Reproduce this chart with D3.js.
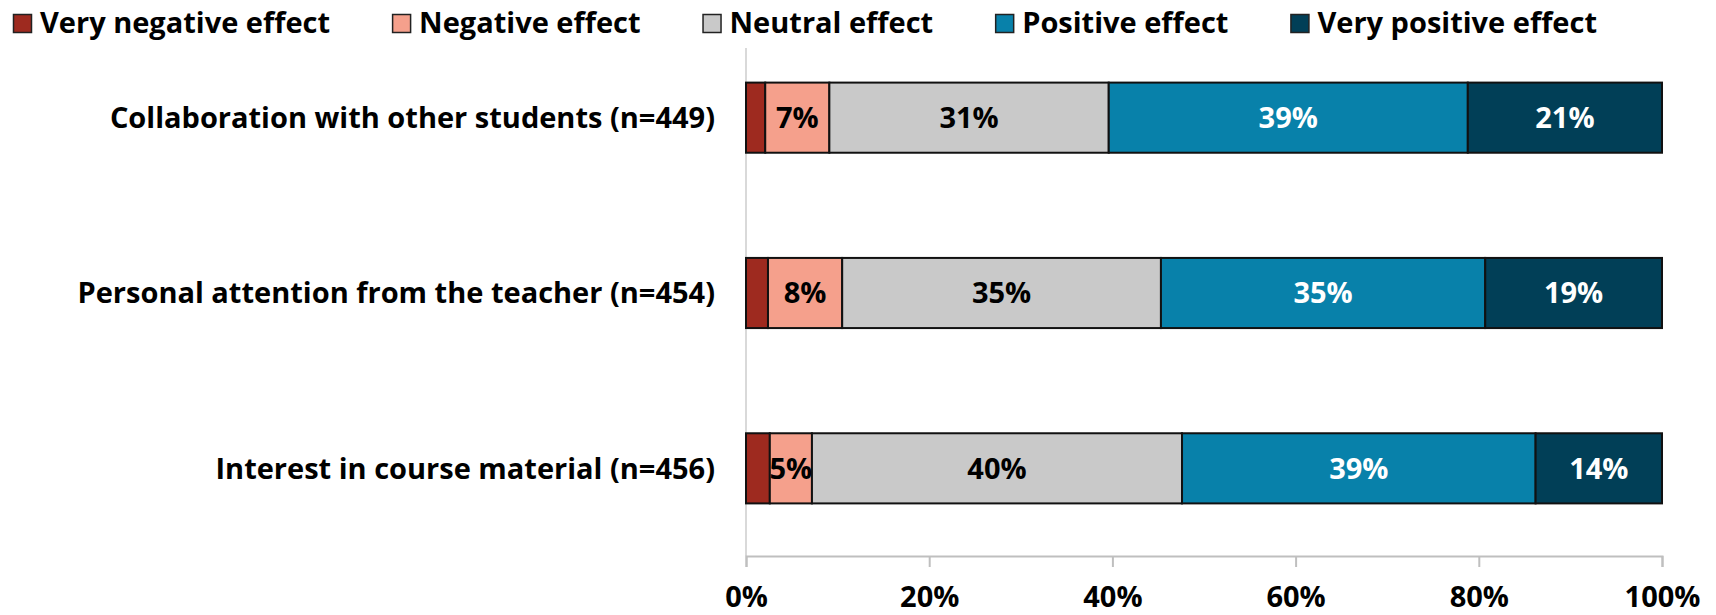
<!DOCTYPE html>
<html>
<head>
<meta charset="utf-8">
<script src="https://cdn.jsdelivr.net/npm/d3@7"></script>
<style>
  html, body { margin: 0; padding: 0; background: #ffffff; }
  svg { display: block; font-family: "Open Sans", Lato, sans-serif; font-weight: 700; }
</style>
</head>
<body>
<svg id="chart" width="1716" height="615"></svg>
<script>
// Survey items (top to bottom)
const categories = [
  "Collaboration with other students (n=449)",
  "Personal attention from the teacher (n=454)",
  "Interest in course material (n=456)"
];

// Response levels, left to right
const seriesNames = [
  "Very negative effect",
  "Negative effect",
  "Neutral effect",
  "Positive effect",
  "Very positive effect"
];

// Share of responses (%) per item for each level
const veryNegative = [2.1, 2.4, 2.6];
const negative     = [7.0, 8.1, 4.6];
const neutral      = [30.5, 34.8, 40.4];
const positive     = [39.2, 35.4, 38.6];
const veryPositive = [21.2, 19.3, 13.8];

// Segments that carry a value label
const showLabel = [false, true, true, true, true];

const tickValues = [0, 20, 40, 60, 80, 100];

const colors = ["#9e2a1f", "#f5a08c", "#c9c9c9", "#0881aa", "#013f57"];
const labelColors = ["#ffffff", "#000000", "#000000", "#ffffff", "#ffffff"];

const series = [veryNegative, negative, neutral, positive, veryPositive];

const rows = categories.map((c, i) => {
  const row = { category: c };
  seriesNames.forEach((s, j) => { row[s] = series[j][i]; });
  return row;
});

const stacked = d3.stack().keys(seriesNames)(rows);

const svg = d3.select("#chart");
const margin = { left: 746, right: 54, top: 30, bottom: 59 };
const W = 1716, H = 615;

const x = d3.scaleLinear().domain([0, 100]).range([margin.left, W - margin.right]);
const y = d3.scaleBand()
  .domain(categories)
  .range([margin.top, H - margin.bottom])
  .paddingInner(0.6)
  .paddingOuter(0.3);

const FONT = 29;

// Vertical category axis line
svg.append("line")
  .attr("x1", x(0)).attr("x2", x(0))
  .attr("y1", 48).attr("y2", H - margin.bottom)
  .attr("stroke", "#d9d9d9").attr("stroke-width", 2);

// Bottom value axis
const xAxis = d3.axisBottom(x)
  .tickValues(tickValues)
  .tickFormat(d => d + "%")
  .tickSize(11)
  .tickPadding(19);

const gx = svg.append("g")
  .attr("transform", `translate(0,${H - margin.bottom})`)
  .call(xAxis);
gx.select(".domain").attr("stroke", "#bfbfbf").attr("stroke-width", 2);
gx.selectAll(".tick line").attr("stroke", "#bfbfbf").attr("stroke-width", 2);
gx.selectAll(".tick text")
  .attr("fill", "#000")
  .style("font-family", "'Open Sans', sans-serif")
  .style("font-weight", 700)
  .style("font-size", FONT + "px");

// Category labels
svg.append("g").selectAll("text")
  .data(categories)
  .join("text")
  .attr("x", x(0) - 31)
  .attr("y", d => y(d) + y.bandwidth() / 2)
  .attr("dy", "0.36em")
  .attr("text-anchor", "end")
  .attr("fill", "#000")
  .style("font-size", FONT + "px")
  .text(d => d);

// Stacked bar segments
const layers = svg.append("g").selectAll("g")
  .data(stacked)
  .join("g")
  .attr("fill", (d, i) => colors[i]);

layers.selectAll("rect")
  .data(d => d)
  .join("rect")
  .attr("x", d => x(d[0]))
  .attr("y", d => y(d.data.category))
  .attr("width", d => x(d[1]) - x(d[0]))
  .attr("height", y.bandwidth())
  .attr("stroke", "#111")
  .attr("stroke-width", 2);

// Value labels
const fmt = v => Math.round(v) + "%";
svg.append("g").selectAll("g")
  .data(stacked)
  .join("g")
  .each(function(layer, i) {
    if (!showLabel[i]) return;
    d3.select(this).selectAll("text")
      .data(layer)
      .join("text")
      .attr("x", d => (x(d[0]) + x(d[1])) / 2)
      .attr("y", d => y(d.data.category) + y.bandwidth() / 2)
      .attr("dy", "0.36em")
      .attr("text-anchor", "middle")
      .attr("fill", labelColors[i])
      .style("font-size", FONT + "px")
      .text(d => fmt(d[1] - d[0]));
  });

// Legend
const legend = svg.append("g").attr("transform", "translate(13,14)");
let lx = 0;
seriesNames.forEach((name, i) => {
  const g = legend.append("g").attr("transform", `translate(${lx},0)`);
  g.append("rect")
    .attr("x", 0.5).attr("y", 0.5)
    .attr("width", 18).attr("height", 18)
    .attr("fill", colors[i])
    .attr("stroke", "#222").attr("stroke-width", 1.5);
  const t = g.append("text")
    .attr("x", 27)
    .attr("y", 19)
    .attr("fill", "#000")
    .style("font-size", FONT + "px")
    .text(name);
  const w = t.node().getComputedTextLength();
  lx += 27 + w + 62;
});
</script>
</body>
</html>
